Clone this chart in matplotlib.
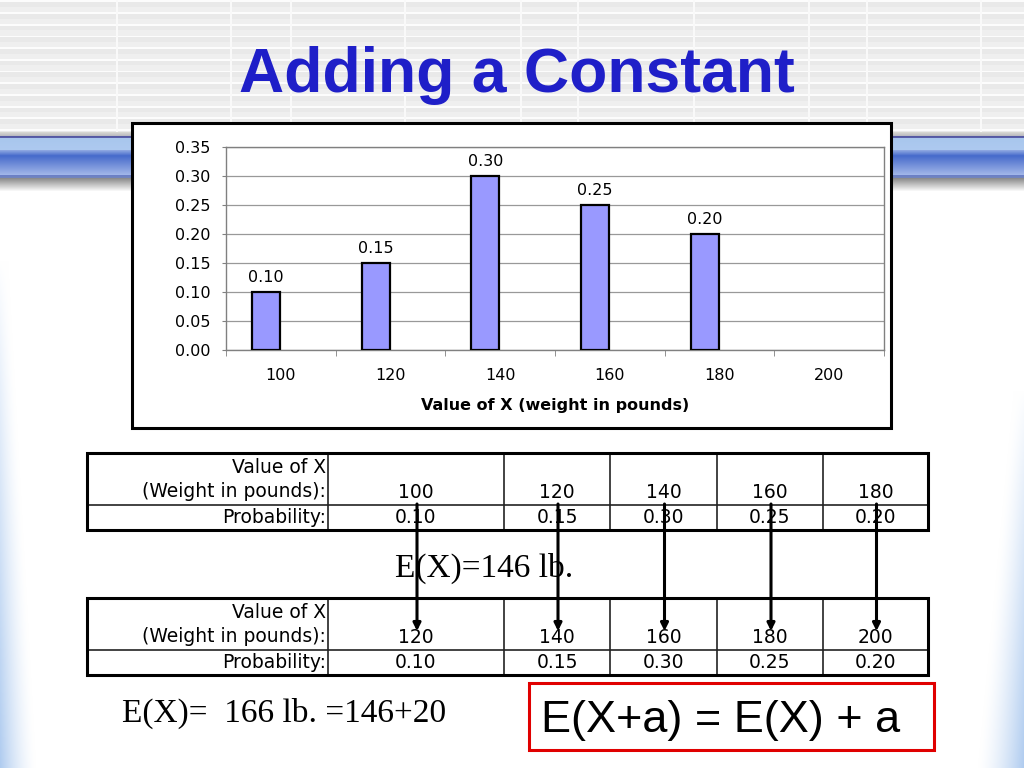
import numpy as np
import matplotlib
matplotlib.use("Agg")
import matplotlib.pyplot as plt
from matplotlib.patches import Rectangle

# ---------------- data ----------------
categories = [100, 120, 140, 160, 180, 200]
probabilities = [0.10, 0.15, 0.30, 0.25, 0.20]
y_ticks = [0.00, 0.05, 0.10, 0.15, 0.20, 0.25, 0.30, 0.35]

table1_values = [100, 120, 140, 160, 180]
table1_probs = [0.10, 0.15, 0.30, 0.25, 0.20]
table2_values = [120, 140, 160, 180, 200]
table2_probs = [0.10, 0.15, 0.30, 0.25, 0.20]

title = "Adding a Constant"
x_label = "Value of X (weight in pounds)"
ex1_text = "E(X)=146 lb."
ex2_text = "E(X)=  166 lb. =146+20"
rule_text = "E(X+a) = E(X) + a"

W, H = 1024, 768
fig = plt.figure(figsize=(W / 100, H / 100), dpi=100)

# ---------------- background ----------------
bg = np.ones((H, W, 3))
yy = np.arange(H)[:, None]
xx = np.arange(W)[None, :]

# grey striped header
for y in range(0, 132):
    ph = (y % 11.7) / 11.7
    if ph < 0.15:
        v = 0.99
    elif ph < 0.55:
        v = 0.915
    else:
        v = 0.94
    bg[y, :, :] = v
for vx in [116, 230, 290, 404, 520, 577, 693, 808, 866, 980]:
    bg[0:132, vx:vx + 2, :] = 0.98

def band(y0, y1, c0, c1):
    n = y1 - y0
    for i in range(n):
        t = i / max(n - 1, 1)
        bg[y0 + i, :, :] = np.array(c0) * (1 - t) + np.array(c1) * t

band(132, 136, (0.84, 0.84, 0.82), (0.74, 0.74, 0.76))
band(136, 138, (0.33, 0.35, 0.64), (0.35, 0.37, 0.66))
band(138, 150, (0.66, 0.78, 0.93), (0.68, 0.79, 0.94))
band(150, 156, (0.55, 0.65, 0.88), (0.29, 0.43, 0.80))
band(156, 175, (0.29, 0.43, 0.80), (0.63, 0.71, 0.91))
band(175, 178, (0.42, 0.50, 0.78), (0.45, 0.52, 0.74))
band(178, 192, (0.55, 0.55, 0.55), (1.0, 1.0, 1.0))

# side gradients
blue = np.array([0.69, 0.80, 0.94])
tl = np.clip((yy - 260) / 508.0, 0, 1)
wl = 8 + 28 * tl
fl = (tl ** 0.9) * np.clip(1 - xx / wl, 0, 1) ** 1.5
tr = np.clip((yy - 390) / 378.0, 0, 1)
wr = 10 + 36 * tr
fr = (tr ** 0.9) * np.clip(1 - (W - 1 - xx) / wr, 0, 1) ** 1.5
f = np.maximum(fl, fr)[:, :, None]
bg = bg * (1 - f) + blue[None, None, :] * f

ov = fig.add_axes([0, 0, 1, 1])
ov.imshow(bg, extent=(0, W, H, 0), aspect="auto", interpolation="nearest", zorder=0)
ov.set_xlim(0, W)
ov.set_ylim(H, 0)
ov.axis("off")

# title
ov.text(517, 92, title, ha="center", va="baseline", fontsize=45, fontweight="bold",
        color="#1f1fc8", family="Liberation Sans", zorder=3)

# chart frame
ov.add_patch(Rectangle((132, 123), 759, 305, facecolor="white", edgecolor="black",
                       lw=2.2, zorder=2))

# ---------------- chart ----------------
ax = fig.add_axes([226 / W, 1 - 350 / H, 658 / W, 203 / H])
ax.set_zorder(1)
ax.set_facecolor("white")
xpos = np.arange(len(probabilities))
bars = ax.bar(xpos - 0.135, probabilities, width=0.255, color="#9999ff",
              edgecolor="black", linewidth=1.6, zorder=3)
ax.bar_label(bars, labels=[f"{p:.2f}" for p in probabilities], padding=5,
             fontsize=11.5, family="DejaVu Sans")
ax.set_xlim(-0.5, len(categories) - 0.5)
ax.set_ylim(0, 0.35)
ax.set_yticks(y_ticks)
ax.set_yticklabels([f"{v:.2f}" for v in y_ticks], fontsize=11.5, family="DejaVu Sans")
ax.set_xticks(np.arange(len(categories)))
ax.set_xticklabels([str(c) for c in categories], fontsize=11.5, family="DejaVu Sans")
ax.set_xticks(np.arange(-0.5, len(categories), 1), minor=True)
ax.tick_params(axis="x", which="major", length=0, pad=13)
ax.tick_params(axis="x", which="minor", length=4, color="#808080", direction="out")
ax.tick_params(axis="y", length=3, color="#808080", pad=8)
ax.yaxis.grid(True, color="#999999", lw=0.9)
ax.set_axisbelow(True)
for s in ax.spines.values():
    s.set_color("#808080")
    s.set_linewidth(1.0)
ax.set_xlabel(x_label, fontsize=11.5, fontweight="bold", family="DejaVu Sans")
ax.xaxis.set_label_coords(0.5, (350 - 405) / 203)
ax.xaxis.label.set_va("center")

# ---------------- tables ----------------
cols = [87, 328, 504, 610, 717, 823, 928]
centers = [(cols[i] + cols[i + 1]) / 2 for i in range(1, len(cols) - 1)]
tfont = dict(family="DejaVu Sans", fontsize=13.5, color="black", zorder=4)

def draw_table(top, values, probs):
    mid, bot = top + 52, top + 77
    for c in cols[1:-1]:
        ov.plot([c, c], [top, bot], color="#222222", lw=1.2, zorder=3)
    ov.plot([cols[0], cols[-1]], [mid, mid], color="#222222", lw=1.2, zorder=3)
    ov.add_patch(Rectangle((cols[0], top), cols[-1] - cols[0], bot - top,
                           facecolor="none", edgecolor="black", lw=2.2, zorder=3))
    ov.text(326, top + 20, "Value of X", ha="right", va="baseline", **tfont)
    ov.text(326, top + 44, "(Weight in pounds):", ha="right", va="baseline", **tfont)
    ov.text(326, top + 70, "Probability:", ha="right", va="baseline", **tfont)
    for cx, v, p in zip(centers, values, probs):
        ov.text(cx, top + 45, str(v), ha="center", va="baseline", **tfont)
        ov.text(cx, top + 70, f"{p:.2f}", ha="center", va="baseline", **tfont)

t1_top, t2_top = 453, 598
draw_table(t1_top, table1_values, table1_probs)
draw_table(t2_top, table2_values, table2_probs)

# arrows
for cx in centers:
    ov.annotate("", xy=(cx + 1, t2_top + 33), xytext=(cx + 1, t1_top + 51),
                arrowprops=dict(arrowstyle="-|>", lw=2.2, color="black",
                                mutation_scale=11, shrinkA=0, shrinkB=0),
                zorder=5)

# expectations
ov.text(395, 577, ex1_text, ha="left", va="baseline", fontsize=24,
        family="Liberation Serif", zorder=4)
ov.text(122, 722, ex2_text, ha="left", va="baseline", fontsize=24,
        family="Liberation Serif", zorder=4)

# red rule box
ov.add_patch(Rectangle((529, 683), 405, 67, facecolor="white", edgecolor="#e00000",
                       lw=2.2, zorder=3))
ov.text(541, 732, rule_text, ha="left", va="baseline", fontsize=32.4,
        family="Liberation Sans", zorder=4)

fig.savefig("out.png", dpi=100)
